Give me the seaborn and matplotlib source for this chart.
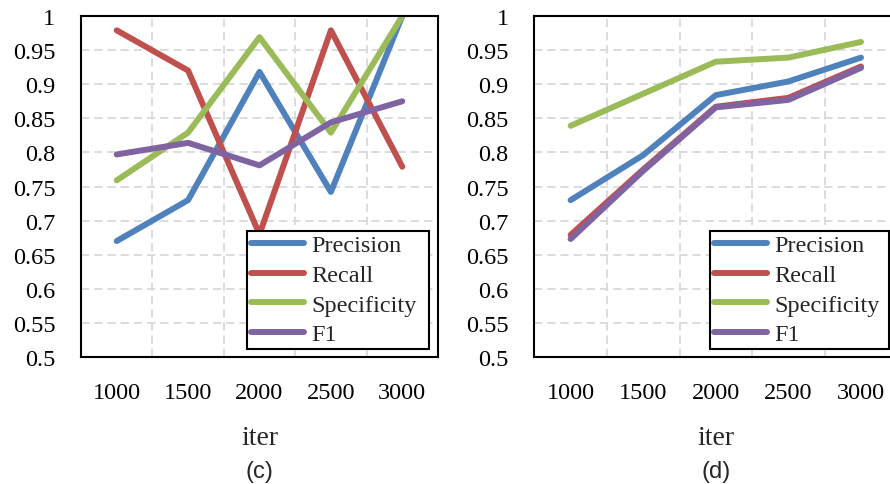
import matplotlib
matplotlib.use("Agg")
import matplotlib.pyplot as plt
import pandas as pd
import seaborn as sns
from matplotlib.ticker import MultipleLocator, FixedLocator, FuncFormatter

# ---- data ----
iters = ["1000", "1500", "2000", "2500", "3000"]
metrics = ["Precision", "Recall", "Specificity", "F1"]

c_precision = [0.670, 0.730, 0.918, 0.742, 1.000]
c_recall = [0.979, 0.920, 0.680, 0.979, 0.779]
c_specificity = [0.759, 0.829, 0.969, 0.829, 1.000]
c_f1 = [0.797, 0.814, 0.781, 0.844, 0.875]

d_precision = [0.730, 0.796, 0.884, 0.904, 0.939]
d_recall = [0.679, 0.775, 0.867, 0.880, 0.926]
d_specificity = [0.839, 0.886, 0.933, 0.939, 0.962]
d_f1 = [0.673, 0.773, 0.866, 0.877, 0.924]

colors = ["#4F81BD", "#C0504D", "#9BBB59", "#8064A2"]
panel_labels = ["(c)", "(d)"]

sns.set_style("white")
plt.rcParams["font.family"] = ["Liberation Serif", "DejaVu Serif"]
plt.rcParams["lines.scale_dashes"] = False


def long_frame(series):
    rows = []
    for m, vals in zip(metrics, series):
        for it, v in zip(iters, vals):
            rows.append({"iter": it, "value": v, "metric": m})
    return pd.DataFrame(rows)


panels = [
    long_frame([c_precision, c_recall, c_specificity, c_f1]),
    long_frame([d_precision, d_recall, d_specificity, d_f1]),
]

fig = plt.figure(figsize=(8.9, 4.85), dpi=100)
ax_rects = [
    [81 / 890, 127 / 485, 357 / 890, 341 / 485],
    [534.3 / 890, 127 / 485, 363 / 890, 341 / 485],
]
legend_boxes = [
    ((247 - 81) / 357, 8 / 341, 182 / 357, 0.3),
    ((710 - 534.3) / 363, 8 / 341, 179 / 363, 0.3),
]

fmt = FuncFormatter(lambda v, p: f"{v:.2f}".rstrip("0").rstrip("."))
grid_kw = dict(color="#D9D9D9", linewidth=1.3, linestyle=(0, (6, 3.5)))
FS = 17.5

for rect, df, lab, lbox in zip(ax_rects, panels, panel_labels, legend_boxes):
    ax = fig.add_axes(rect)
    sns.lineplot(
        data=df, x="iter", y="value", hue="metric", hue_order=metrics,
        palette=colors, sort=False, estimator=None, legend=False,
        linewidth=4.3, solid_capstyle="round", solid_joinstyle="round", ax=ax,
    )
    ax.set_xlim(-0.5, 4.5)
    ax.set_ylim(0.5, 1.0)
    ax.set_ylabel("")
    ax.set_xlabel("iter", fontsize=20)
    ax.xaxis.set_label_coords(0.5, -0.2)

    ax.xaxis.set_minor_locator(FixedLocator([0.5, 1.5, 2.5, 3.5]))
    ax.yaxis.set_major_locator(MultipleLocator(0.05))
    ax.yaxis.set_minor_locator(MultipleLocator(0.01))
    ax.yaxis.set_major_formatter(fmt)

    ax.tick_params(axis="x", which="major", length=0, pad=18, labelsize=FS, colors="black")
    ax.tick_params(axis="x", which="minor", direction="in", length=6, width=1.5, color="black")
    ax.tick_params(axis="y", which="major", direction="in", length=6.5, width=1.5, pad=18.5,
                   labelsize=FS, color="black", labelcolor="black")
    ax.tick_params(axis="y", which="minor", direction="in", length=4.5, width=1.2, color="black")

    ax.grid(False)
    ax.xaxis.grid(True, which="minor", **grid_kw)
    ax.yaxis.grid(True, which="major", **grid_kw)
    ax.set_axisbelow(True)

    for s in ax.spines.values():
        s.set_visible(True)
        s.set_color("black")
        s.set_linewidth(1.5)

    leg = ax.legend(
        ax.lines[:4], metrics, loc="lower left", bbox_to_anchor=lbox, mode="expand",
        borderaxespad=0, fontsize=FS, frameon=True, fancybox=False,
        edgecolor="black", framealpha=1, handlelength=2.2, handletextpad=0.3,
        borderpad=0.16, labelspacing=0.31,
    )
    leg.get_frame().set_linewidth(1.5)

    fig.text(rect[0] + rect[2] / 2, 0.0144, lab, ha="center", va="baseline",
             fontsize=17, family=["Liberation Sans", "DejaVu Sans"])

fig.savefig("out.png", dpi=100)
